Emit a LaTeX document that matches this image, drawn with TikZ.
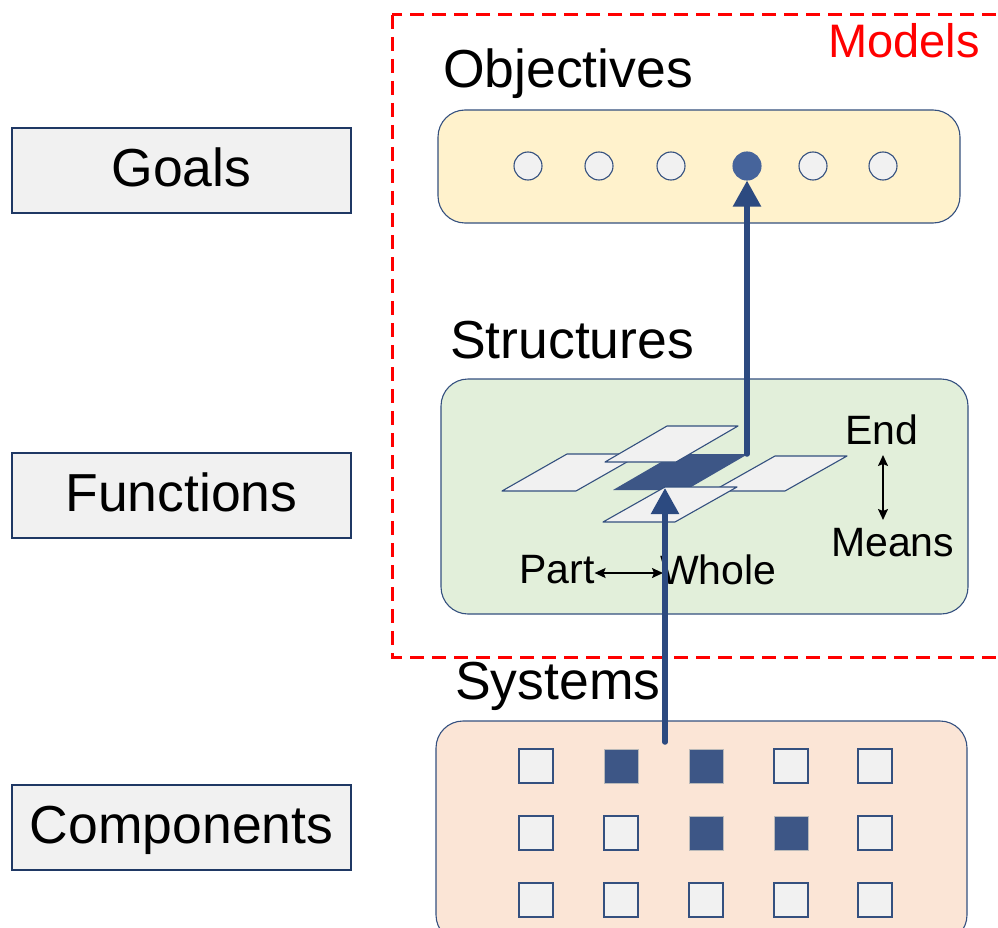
\documentclass[tikz,border=0pt]{standalone}
\usepackage{fontspec}
\setmainfont{Liberation Sans}
\usetikzlibrary{arrows.meta}
\definecolor{navy}{HTML}{1F3864}
\definecolor{edgeblue}{HTML}{34507F}
\definecolor{arrowblue}{HTML}{2C4A80}
\definecolor{darkfill}{HTML}{3D5686}
\definecolor{dotblue}{HTML}{46649B}
\definecolor{lightgray}{HTML}{F1F1F1}
\definecolor{objfill}{HTML}{FFF2CC}
\definecolor{strfill}{HTML}{E2EFDA}
\definecolor{sysfill}{HTML}{FBE5D6}
\definecolor{modelred}{HTML}{FF0000}
\begin{document}
\begin{tikzpicture}[x=1pt,y=-1pt,
  big/.style={font=\fontsize{53.5}{62}\selectfont},
  mid/.style={font=\fontsize{41}{49}\selectfont},
  lbl/.style={inner sep=0pt, anchor=base west},
  levelbox/.style={draw=navy, line width=2pt, fill=lightgray, minimum width=339pt,
    minimum height=85pt, inner sep=0pt, text height=32pt, text depth=0pt, big},
  panel/.style={draw=edgeblue, line width=1.1pt, rounded corners=27pt},
  dot/.style={circle, draw=edgeblue, line width=1.1pt, fill=lightgray, minimum size=28pt, inner sep=0pt},
  sqlight/.style={draw=edgeblue, line width=1.1pt, fill=lightgray, minimum size=34pt, inner sep=0pt},
  sqdark/.style={draw=gray!55, line width=1pt, fill=darkfill, minimum size=34pt, inner sep=0pt},
  plane/.style={draw=edgeblue, line width=1.1pt, fill=lightgray, line join=round},
  planedark/.style={fill=darkfill},
  flow/.style={draw=arrowblue, line width=5.5pt, line cap=round,
    -{Triangle[length=26pt,width=27pt]}},
  dbl/.style={black, line width=1.6pt,
    {Stealth[length=11pt,width=10pt,inset=2pt]}-{Stealth[length=11pt,width=10pt,inset=2pt]}},
  frame/.style={draw=modelred, line width=3pt, dash pattern=on 14pt off 8pt}
]
\useasboundingbox (0,0) rectangle (998,928);
\clip (0,0) rectangle (998,928);

% layer names on the left
\node[levelbox] (goals) at (181.5,170.5) {Goals};
\node[levelbox] (functions) at (181.5,495.5) {Functions};
\node[levelbox] (components) at (181.5,827.5) {Components};

% the three model panels
\path[panel, fill=objfill] (438,110) rectangle (960,223);
\path[panel, fill=strfill] (441,379) rectangle (968,614);
\path[panel, fill=sysfill] (436,721) rectangle (967,942);

% dashed region of the models
\draw[frame] (392,15) rectangle (1020,657);
\node[lbl, font=\fontsize{47}{56}\selectfont, text=modelred] (models) at (828,58) {Models};

% panel titles
\node[lbl, big] (objectives) at (443,88) {Objectives};
\node[lbl, big] (structures) at (450,358) {Structures};
\node[lbl, big] (systems) at (455,699) {Systems};

% objectives as a row of dots
\foreach \i/\x in {1/528,2/599,3/671,5/813,6/883}
  \node[dot] (c\i) at (\x,166) {};
\node[dot, draw=dotblue, fill=dotblue] (c4) at (747,166) {};

% components as a grid of squares
\foreach \r/\y in {1/766,2/833,3/900}{
  \foreach \c/\x in {1/536,2/621,3/706,4/791,5/875}{
    \pgfmathtruncatemacro\isdark{((\r==1)&&((\c==2)||(\c==3)))||((\r==2)&&((\c==3)||(\c==4)))}
    \ifnum\isdark=1 \def\sqst{sqdark}\else\def\sqst{sqlight}\fi
    \node[\sqst] (s\r\c) at (\x,\y) {};
  }
}

% structure planes
\draw[plane] (502,491) -- ++(74,0) -- ++(65,-37) -- ++(-74,0) -- cycle;
\fill[planedark] (613,490) -- ++(73,0) -- ++(62,-36) -- ++(-73,0) -- cycle;
\draw[plane] (605,462) -- ++(71,0) -- ++(62,-36) -- ++(-71,0) -- cycle;
\draw[plane] (713,491) -- ++(72,0) -- ++(62,-35) -- ++(-72,0) -- cycle;
\draw[plane] (603,522) -- ++(72,0) -- ++(62,-35) -- ++(-72,0) -- cycle;

% axis labels inside the structures panel
\node[lbl, mid] (endlbl) at (845,444) {End};
\node[lbl, mid] (meanslbl) at (831,556) {Means};
\node[lbl, mid] (partlbl) at (519,583) {Part};
\node[lbl, mid] (wholelbl) at (660,584) {Whole};

\coordinate (endtip) at (883,455);
\coordinate (meanstip) at (883,520);
\draw[dbl] (endtip) -- (meanstip);
\draw[dbl] ([yshift=10pt]partlbl.base east) -- ([yshift=11pt,xshift=3pt]wholelbl.base west);

% flows from systems through structures to objectives
\coordinate (sysstart) at (665,742);
\coordinate (planefront) at (665,488);
\coordinate (planetop) at (747,454);
\draw[flow] (sysstart) -- (planefront);
\draw[flow] (planetop) -- (c4.south);
\end{tikzpicture}
\end{document}
